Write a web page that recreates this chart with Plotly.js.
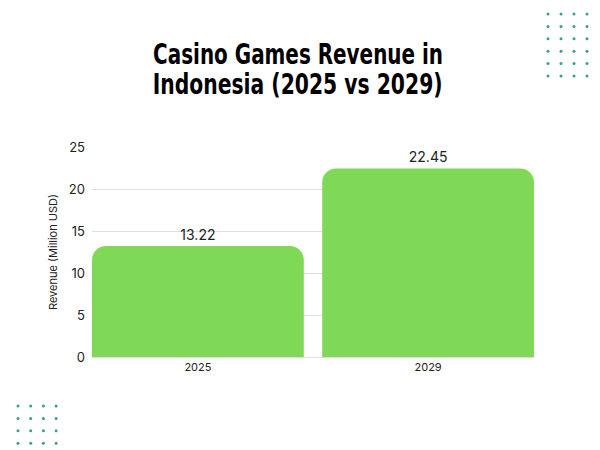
<!DOCTYPE html>
<html>
<head>
<meta charset="utf-8">
<script src="https://cdn.plot.ly/plotly-3.0.1.min.js"></script>
<style>html,body{margin:0;padding:0;background:#fff;}#chart{width:600px;height:450px;}</style>
</head>
<body>
<div id="chart"></div>
<script>
const years = ["2025", "2029"];
const revenue = [13.22, 22.45];
const revenueLabels = ["13.22", "22.45"];
const yTicks = [0, 5, 10, 15, 20, 25];
const titleLines = ["Casino Games Revenue in", "Indonesia (2025 vs 2029)"];

const plotL = 92, plotR = 534, plotT = 147, plotB = 357;
function px2paperX(x) { return (x - plotL) / (plotR - plotL); }
function px2paperY(y) { return (plotB - y) / (plotB - plotT); }

// decorative dot grids
const deco = [];
function grid(x0, y0, cols, rows, dx, dy) {
  for (let c = 0; c < cols; c++) for (let r = 0; r < rows; r++) {
    const cx = px2paperX(x0 + c * dx), cy = px2paperY(y0 + r * dy);
    deco.push({type: "circle", xref: "paper", yref: "paper", xsizemode: "pixel", ysizemode: "pixel",
      xanchor: cx, yanchor: cy, x0: -1.5, x1: 1.5, y0: -1.5, y1: 1.5,
      fillcolor: "#3a9e8c", line: {width: 0}, layer: "above"});
  }
}
grid(548, 14, 4, 6, 13, 12.4);
grid(18, 406, 4, 4, 12.7, 12.4);

const titleFont = {family: "'DejaVu Sans Condensed', 'DejaVu Sans', sans-serif", size: 28, color: "#000", weight: 700};
const titleCenterX = 297.5;
const titleY = [54, 84];
const annotations = titleLines.map((t, i) => ({
  text: t, xref: "paper", yref: "paper",
  x: px2paperX(titleCenterX), y: px2paperY(titleY[i]),
  xanchor: "center", yanchor: "middle", showarrow: false,
  font: titleFont, borderpad: 0
}));

const data = [{
  type: "bar",
  x: years,
  y: revenue,
  text: revenueLabels,
  textposition: "outside",
  cliponaxis: false,
  textfont: {family: "Inter, Lato, sans-serif", size: 14, color: "#222"},
  marker: {color: "#7fd957", cornerradius: 14},
  hoverinfo: "none"
}];

const layout = {
  width: 600, height: 450,
  margin: {l: plotL, r: 600 - plotR, t: plotT, b: 450 - plotB, pad: 0},
  paper_bgcolor: "#fff", plot_bgcolor: "#fff",
  bargap: 0.08,
  showlegend: false,
  xaxis: {
    type: "category",
    range: [-0.46, 1.46],
    showgrid: false, zeroline: false, showline: false,
    tickfont: {family: "Inter, Lato, sans-serif", size: 11, color: "#222"},
    ticklabelstandoff: 2
  },
  yaxis: {
    range: [0, 25],
    tickvals: yTicks,
    showgrid: true, gridcolor: "#dedede", gridwidth: 1,
    zeroline: true, zerolinecolor: "#dedede", zerolinewidth: 1,
    showline: false,
    tickfont: {family: "Inter, Lato, sans-serif", size: 13, color: "#222"},
    ticklabelstandoff: 6,
    title: {text: "Revenue (Million USD)", font: {family: "Inter, Lato, sans-serif", size: 11, color: "#222"}, standoff: 9}
  },
  annotations: annotations,
  shapes: deco
};

Plotly.newPlot("chart", data, layout, {displayModeBar: false, staticPlot: true}).then(() => {
  // condense the heavy title lines horizontally to match the narrow display face
  const targetWidth = 290;
  document.querySelectorAll(".annotation-text").forEach(el => {
    const bb = el.getBBox();
    const sx = targetWidth / bb.width;
    const cx = bb.x + bb.width / 2;
    el.setAttribute("transform", `translate(${cx},0) scale(${sx},1) translate(${-cx},0)`);
  });
});
</script>
</body>
</html>
